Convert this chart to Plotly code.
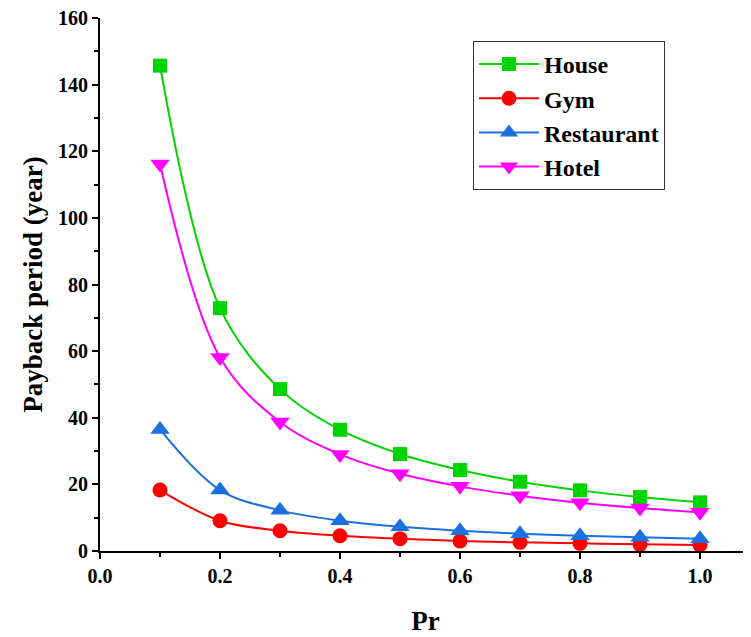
import plotly.graph_objects as go

pr = [0.1, 0.2, 0.3, 0.4, 0.5, 0.6, 0.7, 0.8, 0.9, 1.0]
house = [145.7, 72.9, 48.6, 36.4, 29.1, 24.3, 20.8, 18.2, 16.2, 14.6]
gym = [18.3, 9.1, 6.1, 4.6, 3.7, 3.0, 2.6, 2.3, 2.0, 1.8]
restaurant = [36.5, 18.3, 12.2, 9.1, 7.3, 6.1, 5.2, 4.6, 4.1, 3.7]
hotel = [116.2, 58.1, 38.7, 29.0, 23.2, 19.4, 16.6, 14.5, 12.9, 11.6]

series = [
    ("House", house, "#00D400", "square", 14),
    ("Gym", gym, "#FF0000", "circle", 15),
    ("Restaurant", restaurant, "#1C6FDE", "triangle-up", 17),
    ("Hotel", hotel, "#FF00FF", "triangle-down", 17),
]

fig = go.Figure()
for name, vals, color, sym, size in series:
    fig.add_trace(go.Scatter(
        x=pr, y=vals, name=name, mode="lines+markers",
        line=dict(color=color, width=2, shape="spline", smoothing=1.0),
        marker=dict(symbol=sym, size=size, color=color),
    ))

font_family = "Liberation Serif"
fig.update_layout(
    width=743, height=629,
    margin=dict(l=92, r=0, t=10, b=86),
    paper_bgcolor="white", plot_bgcolor="white",
    font=dict(family=font_family, color="black"),
    showlegend=True,
    legend=dict(
        x=0.573, y=0.957, xanchor="left", yanchor="top",
        bordercolor="#333333", borderwidth=1, bgcolor="white",
        font=dict(family=font_family, size=24, color="black", weight="bold"),
        tracegroupgap=0, itemwidth=60,
    ),
    xaxis=dict(
        range=[0, 1.085], showgrid=False, zeroline=False,
        showline=True, linecolor="black", linewidth=2,
        ticks="outside", tickwidth=2, ticklen=6, tickcolor="black",
        tickvals=[0, 0.2, 0.4, 0.6, 0.8, 1.0],
        ticktext=["0.0", "0.2", "0.4", "0.6", "0.8", "1.0"],
        minor=dict(ticks="outside", dtick=0.1, ticklen=4, tickwidth=2, tickcolor="black", showgrid=False),
        tickfont=dict(family=font_family, size=20, color="black", weight="bold"),
        ticklabeloverflow="allow",
        title=dict(text="Pr", font=dict(family=font_family, size=27, color="black", weight="bold"), standoff=25),
    ),
    yaxis=dict(
        range=[0, 160], showgrid=False, zeroline=False,
        showline=True, linecolor="black", linewidth=2,
        ticks="outside", tickwidth=2, ticklen=6, tickcolor="black",
        tickvals=[0, 20, 40, 60, 80, 100, 120, 140, 160],
        minor=dict(ticks="outside", dtick=10, ticklen=4, tickwidth=2, tickcolor="black", showgrid=False),
        tickfont=dict(family=font_family, size=20, color="black", weight="bold"),
        ticklabeloverflow="allow",
        title=dict(text="Payback period (year)", font=dict(family=font_family, size=27, color="black", weight="bold"), standoff=8),
    ),
)

fig.write_html("out.html")
